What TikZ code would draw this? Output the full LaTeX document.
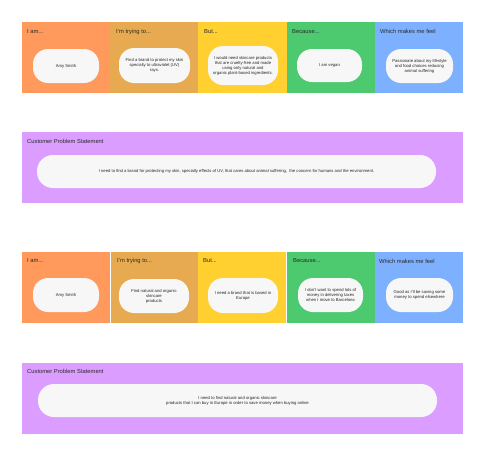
\documentclass[tikz,border=0pt]{standalone}
\usepackage{fontspec}
\setmainfont{Liberation Sans}
\definecolor{cOrange}{HTML}{FF995C}
\definecolor{cTan}{HTML}{E7AA50}
\definecolor{cYellow}{HTML}{FFD02F}
\definecolor{cGreen}{HTML}{4DCA70}
\definecolor{cBlue}{HTML}{7DB0FF}
\definecolor{cPurple}{HTML}{DB9DFF}
\definecolor{cPill}{HTML}{F7F7F7}
\definecolor{cText}{HTML}{262626}
\definecolor{cHead}{HTML}{2A2A2A}
\tikzset{
  pill/.style={fill=cPill, rounded corners=15pt, align=center, inner sep=0pt,
    text=cText, font=\fontsize{4.2}{5}\selectfont},
  head/.style={anchor=west, inner sep=0pt, text=cHead, font=\fontsize{5.8}{6.5}\selectfont},
}
\begin{document}
\begin{tikzpicture}[x=1pt,y=-1pt]
\useasboundingbox[fill=white] (0,0) rectangle (484,456);
% ---------- top row panels ----------
\fill[cOrange] (22,22) rectangle (110,93);
\fill[cTan] (110,22) rectangle (198,93);
\fill[cYellow] (198,22) rectangle (286.5,93);
\fill[cGreen] (286.5,22) rectangle (375,93);
\fill[cBlue] (375,22) rectangle (463,93);
\node[head] (h1) at (27,31.5) {I am...};
\node[head] (h2) at (116,31.5) {I'm trying to...};
\node[head] (h3) at (204,31.5) {But...};
\node[head] (h4) at (292,31.5) {Because...};
\node[head] (h5) at (380,31.5) {Which makes me feel};
\node[pill, minimum width=66, minimum height=34] (p1) at (66,66) {Amy Smith};
\node[pill, minimum width=71, minimum height=35] (p2) at (154.5,65.5) {Find a brand to protect my skin\\specially to ultraviolet (UV)\\rays.};
\node[pill, minimum width=70, minimum height=39] (p3) at (243,65.5) {I would need skincare products\\that are cruelty-free and made\\using only natural and\\organic plant-based ingredients.};
\node[pill, minimum width=65, minimum height=33] (p4) at (329.5,65.5) {I am vegan};
\node[pill, minimum width=67, minimum height=34] (p5) at (419.5,66) {Passionate about my lifestyle\\and food choices reducing\\animal suffering};
% ---------- problem statement 1 ----------
\fill[cPurple] (22,132) rectangle (463,203);
\node[head] (h6) at (27,141) {Customer Problem Statement};
\node[pill, rounded corners=16pt, minimum width=399, minimum height=33] (s1) at (236.5,171.5) {I need to find a brand for protecting my skin, specially effects of UV, that cares about animal suffering,\ \ the concern for humans and the environment.};
% ---------- bottom row panels ----------
\fill[cOrange] (22,252) rectangle (110,323);
\fill[cTan] (111,252) rectangle (198,323);
\fill[cYellow] (198,252) rectangle (286,323);
\fill[cGreen] (287,252) rectangle (375,323);
\fill[cBlue] (375,252) rectangle (463,323);
\node[head] (h7) at (27,261) {I am...};
\node[head] (h8) at (117,261) {I'm trying to...};
\node[head] (h9) at (203,261) {But...};
\node[head] (h10) at (293,261) {Because...};
\node[head] (h11) at (379,261) {Which makes me feel};
\node[pill, minimum width=66, minimum height=34] (q1) at (66,295) {Amy Smith};
\node[pill, minimum width=70, minimum height=34] (q2) at (154,296) {Find natural and organic\\skincare\\products};
\node[pill, minimum width=70, minimum height=35] (q3) at (243,295.5) {I need a brand that is based in\\Europe};
\node[pill, minimum width=65, minimum height=34] (q4) at (330.5,295) {I don't want to spend lots of\\money in delivering taxes\\when I move to Barcelona};
\node[pill, minimum width=67, minimum height=34] (q5) at (419.5,295) {Good as I'll be saving some\\money to spend elsewhere};
% ---------- problem statement 2 ----------
\fill[cPurple] (22,363) rectangle (463,434);
\node[head] (h12) at (27,371) {Customer Problem Statement};
\node[pill, rounded corners=16pt, minimum width=399, minimum height=33] (s2) at (237.5,400.5) {I need to find natural and organic skincare\\products that I can buy in Europe in order to save money when buying online};
\end{tikzpicture}
\end{document}
